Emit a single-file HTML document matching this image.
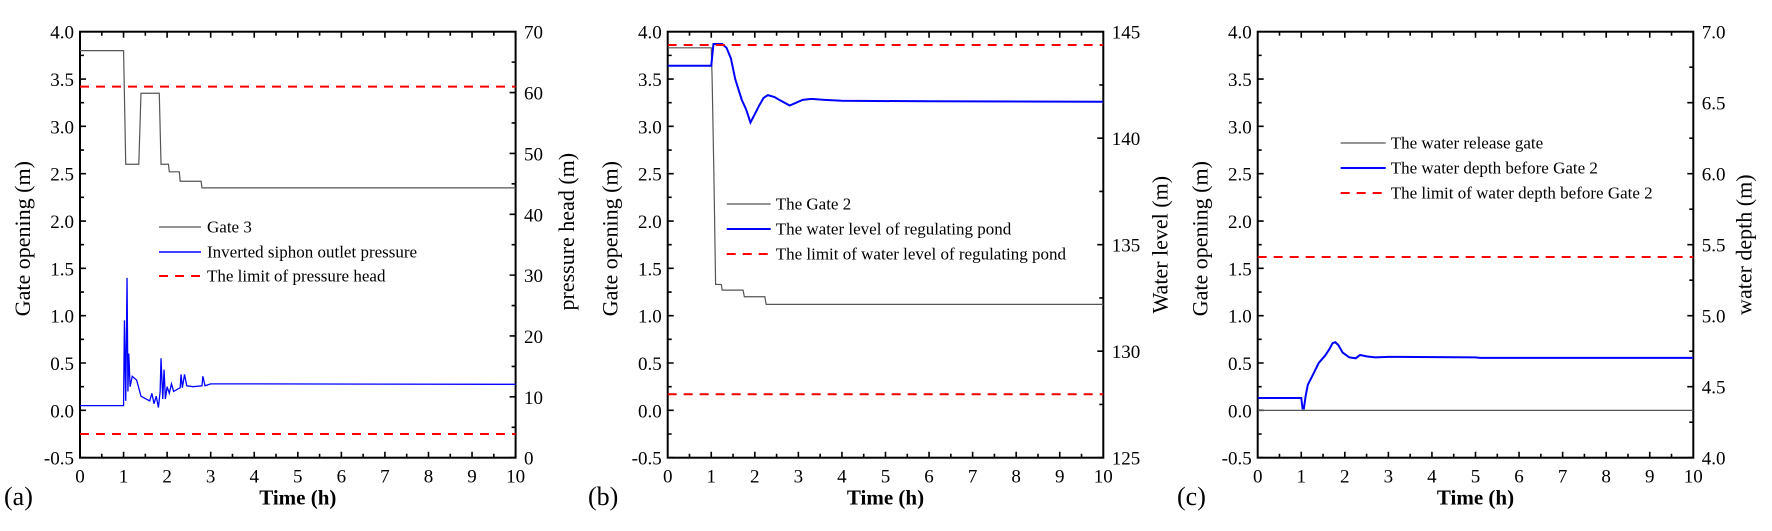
<!DOCTYPE html>
<html><head><meta charset="utf-8"><style>
html,body{margin:0;padding:0;background:#fff}
svg{display:block}
text{font-family:"Liberation Serif",serif;fill:#000}
.tl{font-size:19px}
.lg{font-size:17px}
</style></head><body>
<svg width="1772" height="531" viewBox="0 0 1772 531" xmlns="http://www.w3.org/2000/svg">
<defs>
<g id="frame">
  <rect x="0" y="0" width="435.6" height="426" fill="none" stroke="#000" stroke-width="2"/>
  <line x1="0" x2="435.6" y1="423" y2="423" stroke="#000" stroke-width="6" stroke-dasharray="1.6 41.96" stroke-dashoffset="0.8"/>
  <line x1="20.98" x2="435.6" y1="424" y2="424" stroke="#000" stroke-width="4" stroke-dasharray="1.6 41.96"/>
  <line x1="0" x2="435.6" y1="3" y2="3" stroke="#000" stroke-width="6" stroke-dasharray="1.6 41.96" stroke-dashoffset="0.8"/>
  <line x1="20.98" x2="435.6" y1="2" y2="2" stroke="#000" stroke-width="4" stroke-dasharray="1.6 41.96"/>
  <line x1="3" x2="3" y1="0" y2="426" stroke="#000" stroke-width="6" stroke-dasharray="1.6 45.73" stroke-dashoffset="0.8"/>
  <line x1="2" x2="2" y1="22.87" y2="426" stroke="#000" stroke-width="4" stroke-dasharray="1.6 45.73"/>
  <g class="tl" text-anchor="end">
    <text x="-6" y="7">4.0</text><text x="-6" y="54.3">3.5</text><text x="-6" y="101.7">3.0</text>
    <text x="-6" y="149">2.5</text><text x="-6" y="196.3">2.0</text><text x="-6" y="243.7">1.5</text>
    <text x="-6" y="291">1.0</text><text x="-6" y="338.3">0.5</text><text x="-6" y="385.7">0.0</text>
    <text x="-6" y="433">-0.5</text>
  </g>
  <g class="tl" text-anchor="middle">
    <text x="0" y="451">0</text><text x="43.56" y="451">1</text><text x="87.12" y="451">2</text>
    <text x="130.68" y="451">3</text><text x="174.24" y="451">4</text><text x="217.8" y="451">5</text>
    <text x="261.36" y="451">6</text><text x="304.92" y="451">7</text><text x="348.48" y="451">8</text>
    <text x="392.04" y="451">9</text><text x="435.6" y="451">10</text>
  </g>
  <text x="217.8" y="473" text-anchor="middle" font-size="21" font-weight="bold">Time (h)</text>
  <text transform="translate(-50,207) rotate(-90)" text-anchor="middle" font-size="22">Gate opening (m)</text>
</g>
</defs>

<!-- Panel a -->
<g transform="translate(80,31.7)">
  <use href="#frame"/>
  <line x1="432.6" x2="432.6" y1="0" y2="426" stroke="#000" stroke-width="6" stroke-dasharray="1.6 59.257" stroke-dashoffset="0.8"/>
  <line x1="433.6" x2="433.6" y1="29.63" y2="426" stroke="#000" stroke-width="4" stroke-dasharray="1.6 59.257"/>
  <g class="tl">
    <text x="444" y="7">70</text><text x="444" y="67.9">60</text><text x="444" y="128.7">50</text>
    <text x="444" y="189.6">40</text><text x="444" y="250.4">30</text><text x="444" y="311.3">20</text>
    <text x="444" y="372.1">10</text><text x="444" y="433">0</text>
  </g>
  <text transform="translate(494,200) rotate(-90)" text-anchor="middle" font-size="22">pressure head (m)</text>
  <svg x="0" y="0" width="435.6" height="426" viewBox="0 -4 10 4.5" preserveAspectRatio="none" overflow="hidden">
    <g transform="scale(1,-1)" fill="none">
      <path vector-effect="non-scaling-stroke" stroke="#555" stroke-width="1.2" d="M0,3.8 L1,3.8 L1.05,2.6 L1.35,2.6 L1.4,3.35 L1.82,3.35 L1.86,2.6 L2.03,2.6 L2.05,2.52 L2.28,2.52 L2.3,2.42 L2.78,2.42 L2.8,2.35 L10,2.35"/>
      <path vector-effect="non-scaling-stroke" stroke="#0000ff" stroke-width="1.3" d="M0,0.05 L1,0.05 L1.02,0.95 L1.05,0.1 L1.08,1.4 L1.1,0.2 L1.12,0.6 L1.15,0.25 L1.2,0.36 L1.3,0.32 L1.4,0.15 L1.6,0.1 L1.65,0.18 L1.7,0.07 L1.75,0.15 L1.8,0.03 L1.84,0.2 L1.86,0.55 L1.9,0.12 L1.93,0.43 L1.96,0.12 L2,0.25 L2.05,0.18 L2.1,0.28 L2.15,0.2 L2.3,0.24 L2.32,0.38 L2.35,0.24 L2.4,0.38 L2.45,0.26 L2.6,0.25 L2.8,0.26 L2.82,0.36 L2.87,0.26 L3,0.28 L3.5,0.28 L10,0.275"/>
      <path vector-effect="non-scaling-stroke" stroke="#ff0000" stroke-width="2" stroke-dasharray="9 7" d="M0,3.42 L10,3.42 M0,-0.25 L10,-0.25"/>
    </g>
  </svg>
  <line x1="79" x2="121" y1="195.3" y2="195.3" stroke="#555" stroke-width="1.2"/>
  <line x1="79" x2="121" y1="220.3" y2="220.3" stroke="#0000ff" stroke-width="1.5"/>
  <line x1="79" x2="121" y1="244.3" y2="244.3" stroke="#ff0000" stroke-width="2" stroke-dasharray="9 7"/>
  <g class="lg"><text x="127" y="201">Gate 3</text><text x="127" y="226">Inverted siphon outlet pressure</text><text x="127" y="250">The limit of pressure head</text></g>
</g>
<text x="4" y="505" font-size="26">(a)</text>

<!-- Panel b -->
<g transform="translate(667.7,31.7)">
  <use href="#frame"/>
  <line x1="432.6" x2="432.6" y1="0" y2="426" stroke="#000" stroke-width="6" stroke-dasharray="1.6 104.9" stroke-dashoffset="0.8"/>
  <line x1="433.6" x2="433.6" y1="52.45" y2="426" stroke="#000" stroke-width="4" stroke-dasharray="1.6 104.9"/>
  <g class="tl">
    <text x="444" y="7">145</text><text x="444" y="113.5">140</text><text x="444" y="220">135</text>
    <text x="444" y="326.5">130</text><text x="444" y="433">125</text>
  </g>
  <text transform="translate(500,213) rotate(-90)" text-anchor="middle" font-size="22">Water level (m)</text>
  <svg x="0" y="0" width="435.6" height="426" viewBox="0 -4 10 4.5" preserveAspectRatio="none" overflow="hidden">
    <g transform="scale(1,-1)" fill="none">
      <path vector-effect="non-scaling-stroke" stroke="#555" stroke-width="1.2" d="M0,3.83 L1,3.83 L1.02,3.5 L1.06,2.5 L1.1,1.33 L1.23,1.33 L1.25,1.27 L1.73,1.27 L1.76,1.2 L2.23,1.2 L2.26,1.12 L10,1.12"/>
      <path vector-effect="non-scaling-stroke" stroke="#0000ff" stroke-width="2" d="M0,3.64 L1,3.64 L1.05,3.87 L1.25,3.87 L1.35,3.83 L1.45,3.72 L1.55,3.5 L1.7,3.28 L1.8,3.18 L1.9,3.04 L2.0,3.13 L2.1,3.22 L2.2,3.3 L2.3,3.33 L2.45,3.31 L2.6,3.27 L2.8,3.22 L2.95,3.25 L3.1,3.28 L3.3,3.29 L3.6,3.28 L4,3.27 L6,3.265 L10,3.26"/>
      <path vector-effect="non-scaling-stroke" stroke="#ff0000" stroke-width="2" stroke-dasharray="9 7" d="M0,3.86 L10,3.86 M0,0.17 L10,0.17"/>
    </g>
  </svg>
  <line x1="59" x2="103" y1="172.3" y2="172.3" stroke="#555" stroke-width="1.2"/>
  <line x1="59" x2="103" y1="197.3" y2="197.3" stroke="#0000ff" stroke-width="2"/>
  <line x1="59" x2="103" y1="222.3" y2="222.3" stroke="#ff0000" stroke-width="2" stroke-dasharray="9 7"/>
  <g class="lg"><text x="108" y="178">The Gate 2</text><text x="108" y="203">The water level of regulating pond</text><text x="108" y="228">The limit of water level of regulating pond</text></g>
</g>
<text x="588" y="505" font-size="26">(b)</text>

<!-- Panel c -->
<g transform="translate(1257.7,31.7)">
  <use href="#frame"/>
  <line x1="432.6" x2="432.6" y1="0" y2="426" stroke="#000" stroke-width="6" stroke-dasharray="1.6 69.4" stroke-dashoffset="0.8"/>
  <line x1="433.6" x2="433.6" y1="34.7" y2="426" stroke="#000" stroke-width="4" stroke-dasharray="1.6 69.4"/>
  <g class="tl">
    <text x="444" y="7">7.0</text><text x="444" y="78">6.5</text><text x="444" y="149">6.0</text>
    <text x="444" y="220">5.5</text><text x="444" y="291">5.0</text><text x="444" y="362">4.5</text><text x="444" y="433">4.0</text>
  </g>
  <text transform="translate(494,213) rotate(-90)" text-anchor="middle" font-size="22">water depth (m)</text>
  <svg x="0" y="0" width="435.6" height="426" viewBox="0 -4 10 4.5" preserveAspectRatio="none" overflow="hidden">
    <g transform="scale(1,-1)" fill="none">
      <path vector-effect="non-scaling-stroke" stroke="#555" stroke-width="1.2" d="M0,0 L10,0"/>
      <path vector-effect="non-scaling-stroke" stroke="#0000ff" stroke-width="2" d="M0,0.13 L1,0.13 L1.03,0.02 L1.06,0.02 L1.1,0.15 L1.15,0.27 L1.25,0.36 L1.4,0.5 L1.55,0.58 L1.65,0.65 L1.72,0.71 L1.78,0.72 L1.85,0.69 L1.95,0.61 L2.1,0.56 L2.25,0.55 L2.35,0.585 L2.5,0.57 L2.7,0.56 L3,0.565 L5,0.56 L5.1,0.555 L10,0.555"/>
      <path vector-effect="non-scaling-stroke" stroke="#ff0000" stroke-width="2" stroke-dasharray="9 7" d="M0,1.62 L10,1.62"/>
    </g>
  </svg>
  <line x1="83" x2="128" y1="111.3" y2="111.3" stroke="#555" stroke-width="1.2"/>
  <line x1="83" x2="128" y1="136.3" y2="136.3" stroke="#0000ff" stroke-width="2"/>
  <line x1="83" x2="128" y1="161.3" y2="161.3" stroke="#ff0000" stroke-width="2" stroke-dasharray="9 7"/>
  <g class="lg"><text x="133" y="117">The water release gate</text><text x="133" y="142">The water depth before Gate 2</text><text x="133" y="167">The limit of water depth before Gate 2</text></g>
</g>
<text x="1177" y="505" font-size="26">(c)</text>
</svg>
</body></html>
